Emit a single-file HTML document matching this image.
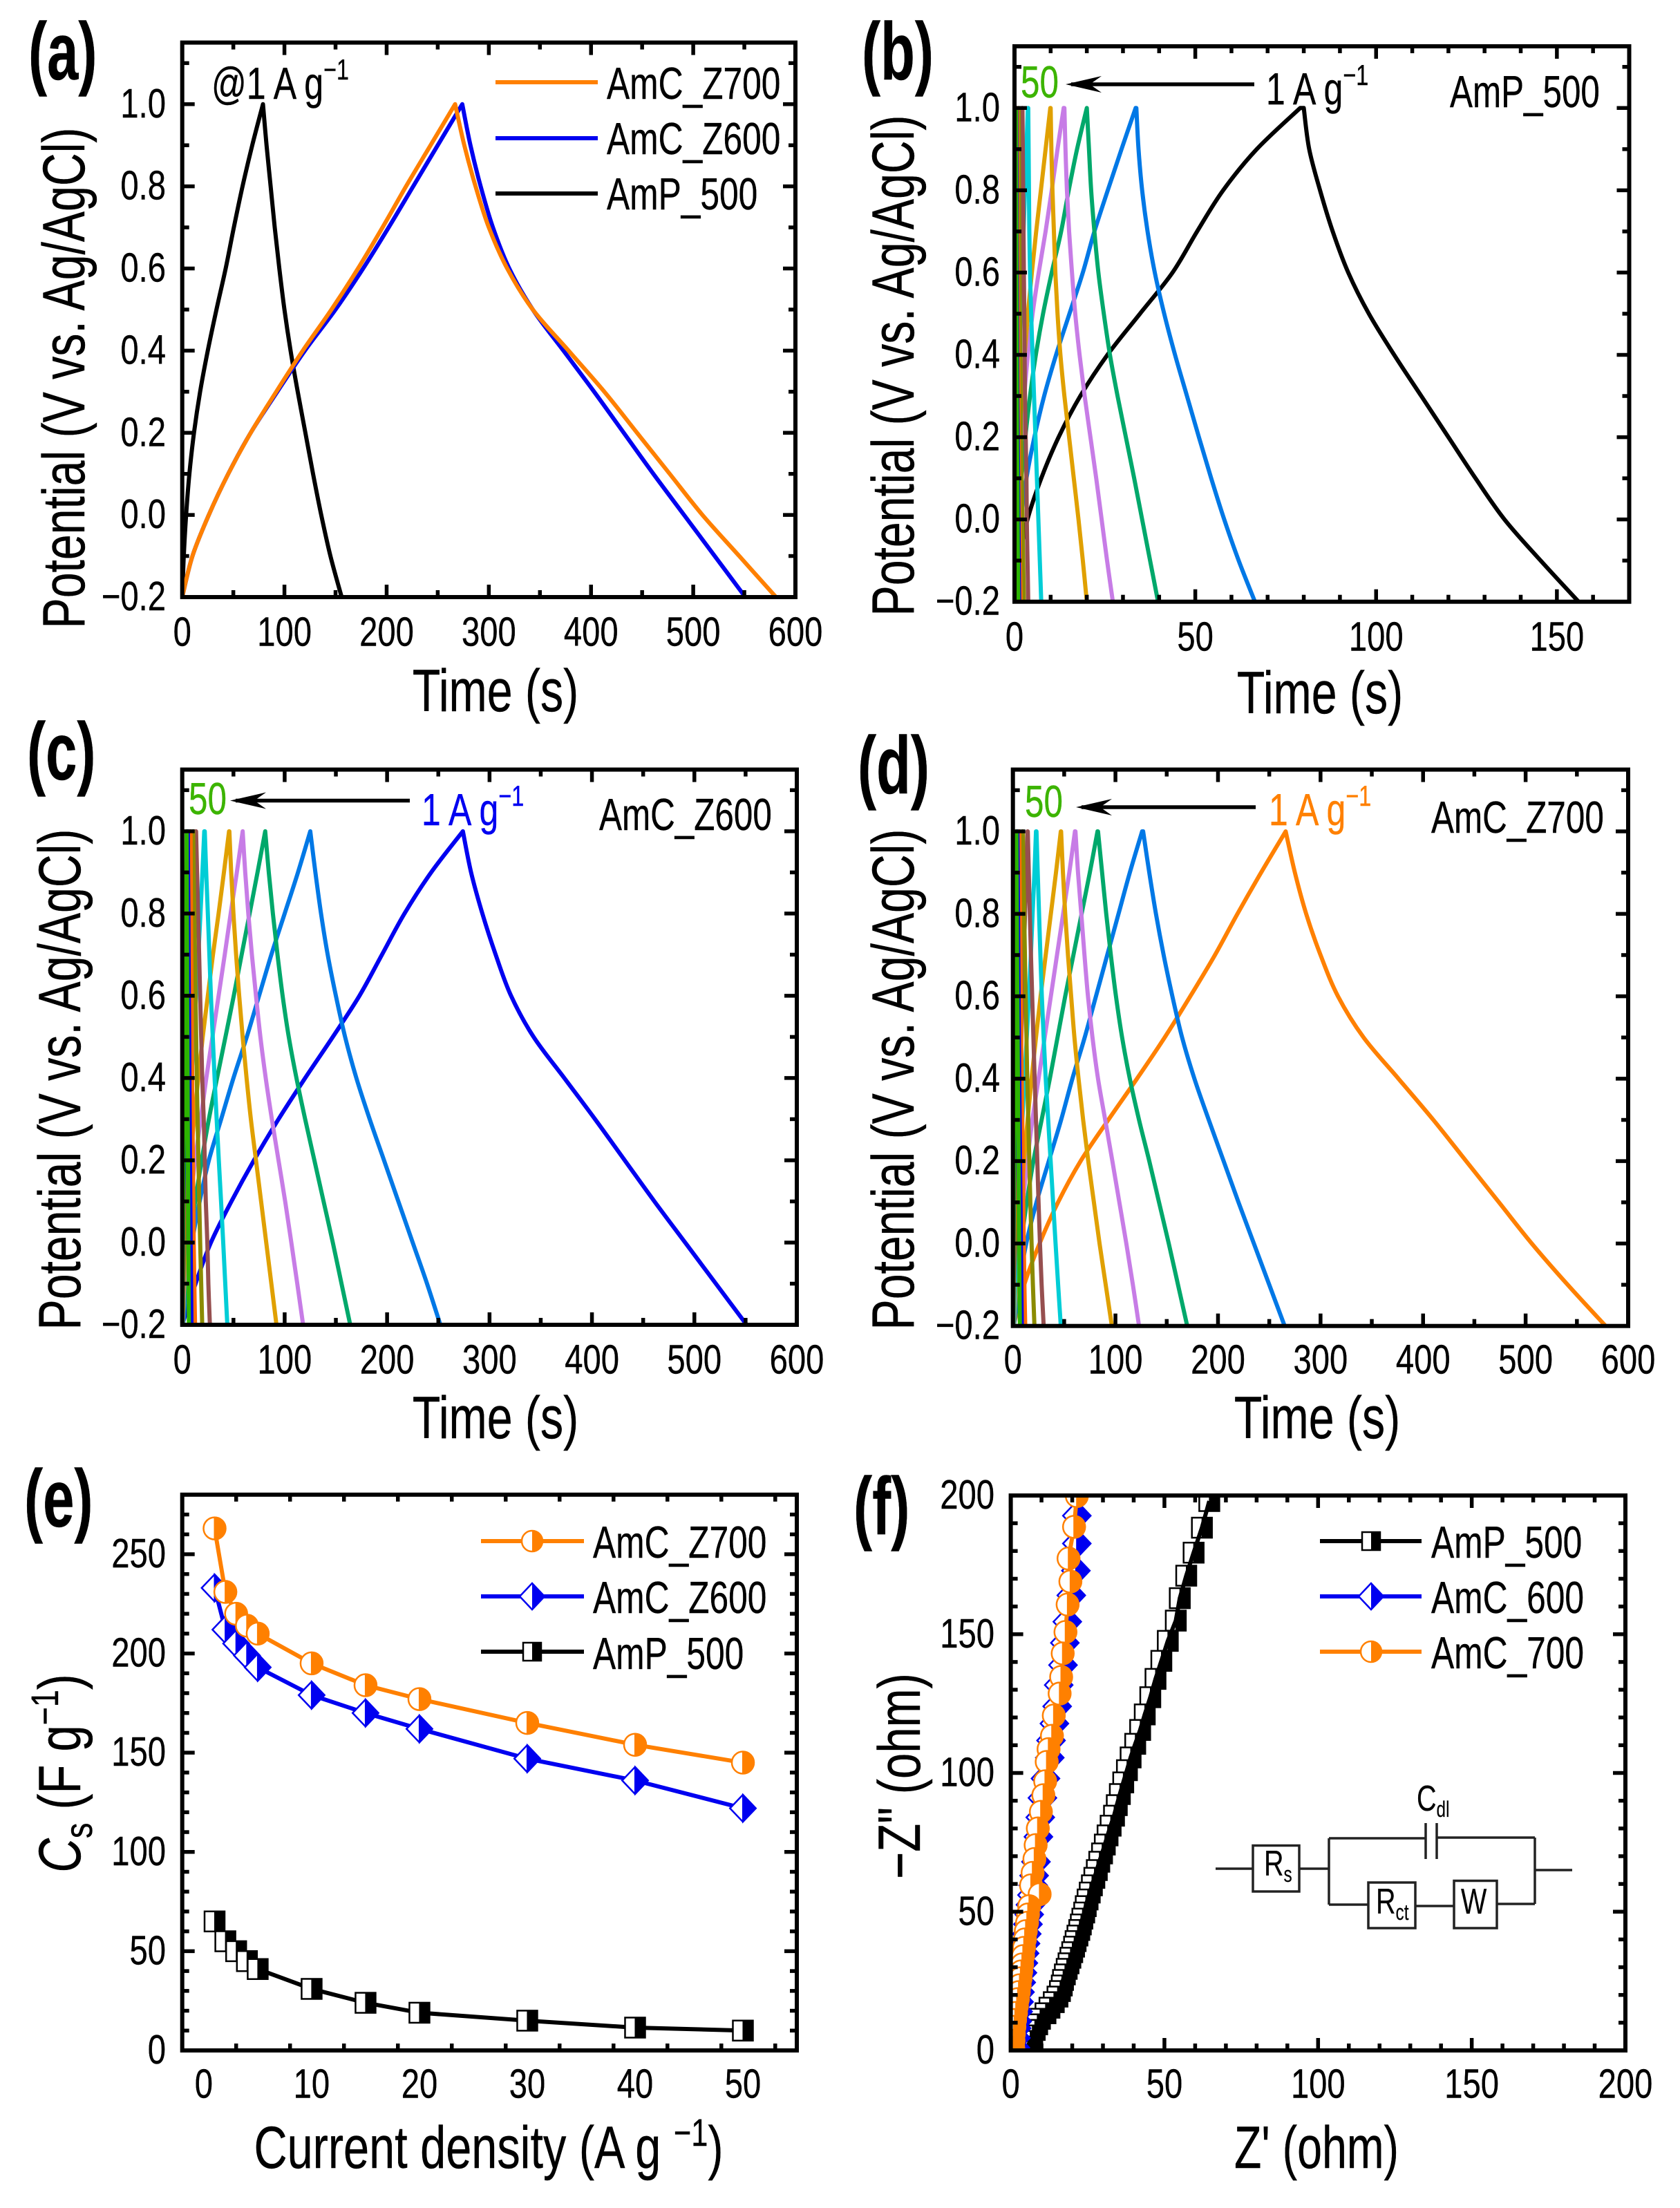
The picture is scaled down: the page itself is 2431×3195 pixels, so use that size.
<!DOCTYPE html>
<html lang="en">
<head>
<meta charset="utf-8">
<title>Electrochemical performance panels</title>
<style>
html,body{margin:0;padding:0;background:#fff;}
svg{display:block;}
text{font-family:"Liberation Sans",sans-serif;fill:#000;stroke:#000;stroke-width:.4;}
</style>
</head>
<body>
<svg id="figure" xmlns="http://www.w3.org/2000/svg" width="2431" height="3195" viewBox="0 0 2431 3195">
<rect x="0" y="0" width="2431" height="3195" fill="#fff"/>
<g id="plots"></g>

<g font-weight="bold" font-size="118">
<text transform="translate(41,115) scale(.69,1)">(a)</text>
<text transform="translate(1247,115) scale(.69,1)">(b)</text>
<text transform="translate(39,1128) scale(.69,1)">(c)</text>
<text transform="translate(1241,1148) scale(.69,1)">(d)</text>
<text transform="translate(35,2209) scale(.69,1)">(e)</text>
<text transform="translate(1235,2220) scale(.69,1)">(f)</text>
</g>

<g>
<text font-size="86" text-anchor="middle" transform="translate(717,1029) scale(.77,1)">Time (s)</text>
<text font-size="86" text-anchor="middle" transform="translate(1910,1032) scale(.77,1)">Time (s)</text>
<text font-size="86" text-anchor="middle" transform="translate(717,2081) scale(.77,1)">Time (s)</text>
<text font-size="86" text-anchor="middle" transform="translate(1906,2081) scale(.77,1)">Time (s)</text>
<text font-size="86" text-anchor="middle" transform="translate(707,3137) scale(.775,1)">Current density (A g <tspan font-size="56" dy="-32">−1</tspan><tspan dy="32">)</tspan></text>
<text font-size="86" text-anchor="middle" transform="translate(1905,3137) scale(.75,1)">Z' (ohm)</text>

<text font-size="86" text-anchor="middle" transform="translate(122,547) rotate(-90) scale(.77,1)">Potential (V vs. Ag/AgCl)</text>
<text font-size="86" text-anchor="middle" transform="translate(1322,529) rotate(-90) scale(.77,1)">Potential (V vs. Ag/AgCl)</text>
<text font-size="86" text-anchor="middle" transform="translate(116,1562) rotate(-90) scale(.77,1)">Potential (V vs. Ag/AgCl)</text>
<text font-size="86" text-anchor="middle" transform="translate(1322,1562) rotate(-90) scale(.77,1)">Potential (V vs. Ag/AgCl)</text>
<text font-size="86" text-anchor="middle" transform="translate(116,2566) rotate(-90) scale(.8,1)"><tspan font-style="italic">C</tspan><tspan font-size="56" dy="17">s</tspan><tspan dy="-17"> (F g</tspan><tspan font-size="56" dy="-32">−1</tspan><tspan dy="32">)</tspan></text>
<text font-size="86" text-anchor="middle" transform="translate(1331,2570) rotate(-90) scale(.78,1)">−Z" (ohm)</text>
</g>

<g font-size="65">
<text transform="translate(306,143) scale(.77,1)">@1 A g<tspan font-size="42" dy="-28">−1</tspan></text>

<text style="fill:#3cb400;stroke:#3cb400" transform="translate(1477,141) scale(.76,1)">50</text>
<g><line x1="1815" y1="122" x2="1550" y2="122" stroke="#000" stroke-width="5.5"/><polygon points="1542,122 1594,110 1577,122 1594,134" fill="#000"/></g>
<text transform="translate(1832,151) scale(.77,1)">1 A g<tspan font-size="42" dy="-28">−1</tspan></text>
<text transform="translate(2098,155) scale(.76,1)">AmP_500</text>

<text style="fill:#3cb400;stroke:#3cb400" transform="translate(273,1178) scale(.76,1)">50</text>
<g><line x1="593" y1="1158.5" x2="341" y2="1158.5" stroke="#000" stroke-width="5.5"/><polygon points="333,1158.5 385,1146.5 368,1158.5 385,1170.5" fill="#000"/></g>
<text style="fill:#0000f0;stroke:#0000f0" transform="translate(610,1194) scale(.77,1)">1 A g<tspan font-size="42" dy="-28">−1</tspan></text>
<text transform="translate(867,1201) scale(.76,1)">AmC_Z600</text>

<text style="fill:#3cb400;stroke:#3cb400" transform="translate(1483,1182) scale(.76,1)">50</text>
<g><line x1="1817" y1="1168" x2="1565" y2="1168" stroke="#000" stroke-width="5.5"/><polygon points="1557,1168 1609,1156 1592,1168 1609,1180" fill="#000"/></g>
<text style="fill:#ff8000;stroke:#ff8000" transform="translate(1836,1194) scale(.77,1)">1 A g<tspan font-size="42" dy="-28">−1</tspan></text>
<text transform="translate(2071,1205) scale(.76,1)">AmC_Z700</text>
</g>

<g font-size="65">
<g><line x1="717" y1="119" x2="865" y2="119" stroke="#ff8000" stroke-width="6"/><text transform="translate(878,143) scale(.765,1)">AmC_Z700</text></g>
<g><line x1="717" y1="200" x2="865" y2="200" stroke="#0000f0" stroke-width="6"/><text transform="translate(878,223) scale(.765,1)">AmC_Z600</text></g>
<g><line x1="717" y1="280" x2="865" y2="280" stroke="#000" stroke-width="6"/><text transform="translate(878,303) scale(.765,1)">AmP_500</text></g>
</g>

<g font-size="65">
<g><line x1="696" y1="2230" x2="845" y2="2230" stroke="#ff8000" stroke-width="6"/><circle cx="770" cy="2230" r="15" fill="#fff" stroke="#ff8000" stroke-width="2.5"/><path d="M770,2215 A15,15 0 0 1 770,2245 Z" fill="#ff8000"/><text transform="translate(858,2254) scale(.765,1)">AmC_Z700</text></g>
<g><line x1="696" y1="2310" x2="845" y2="2310" stroke="#0000f0" stroke-width="6"/><polygon points="770,2291 788,2310 770,2329 752,2310" fill="#fff" stroke="#0000f0" stroke-width="2.5"/><polygon points="770,2291 788,2310 770,2329" fill="#0000f0"/><text transform="translate(858,2334) scale(.765,1)">AmC_Z600</text></g>
<g><line x1="696" y1="2390" x2="845" y2="2390" stroke="#000" stroke-width="6"/><rect x="757" y="2377" width="26" height="26" fill="#fff" stroke="#000" stroke-width="2.5"/><rect x="770" y="2377" width="13" height="26" fill="#000"/><text transform="translate(858,2415) scale(.765,1)">AmP_500</text></g>
</g>

<g font-size="65">
<g><line x1="1910" y1="2230" x2="2057" y2="2230" stroke="#000" stroke-width="6"/><rect x="1971" y="2217" width="26" height="26" fill="#fff" stroke="#000" stroke-width="2.5"/><rect x="1984" y="2217" width="13" height="26" fill="#000"/><text transform="translate(2071,2254) scale(.765,1)">AmP_500</text></g>
<g><line x1="1910" y1="2310" x2="2057" y2="2310" stroke="#0000f0" stroke-width="6"/><polygon points="1984,2291 2002,2310 1984,2329 1966,2310" fill="#fff" stroke="#0000f0" stroke-width="2.5"/><polygon points="1984,2291 2002,2310 1984,2329" fill="#0000f0"/><text transform="translate(2071,2334) scale(.765,1)">AmC_600</text></g>
<g><line x1="1910" y1="2390" x2="2057" y2="2390" stroke="#ff8000" stroke-width="6"/><circle cx="1984" cy="2390" r="15" fill="#fff" stroke="#ff8000" stroke-width="2.5"/><path d="M1984,2375 A15,15 0 0 1 1984,2405 Z" fill="#ff8000"/><text transform="translate(2071,2414) scale(.765,1)">AmC_700</text></g>
</g>

<g fill="none" stroke="#222" stroke-width="3.5">
<path d="M1759,2704 H1813 M1880,2704 H1923 M1923,2660 V2756 M1923,2660 H2063 M2079,2659 H2221 M2221,2659 V2755 M2221,2706 H2275 M1923,2756 H1980 M2048,2758 H2104 M2166,2755 H2221"/>
<path d="M2063,2638 V2690 M2079,2638 V2690"/>
<rect x="1813" y="2670.5" width="67" height="66.5"/>
<rect x="1980" y="2724" width="68" height="66"/>
<rect x="2104" y="2721.5" width="62" height="68.5"/>
<g font-size="52">
<text style="stroke-width:.2" transform="translate(1829,2714) scale(.76,1)">R<tspan font-size="32" dy="9">s</tspan></text>
<text style="stroke-width:.2" transform="translate(1991,2769) scale(.76,1)">R<tspan font-size="32" dy="9">ct</tspan></text>
<text style="stroke-width:.2" transform="translate(2114,2769) scale(.76,1)">W</text>
<text style="stroke-width:.2" transform="translate(2050,2620) scale(.76,1)">C<tspan font-size="32" dy="9">dl</tspan></text>
</g>
</g>
</svg>

<script>
/* ---------- shared potential levels ---------- */
const potentialUp = [-0.2,-0.1,0,0.1,0.2,0.3,0.4,0.5,0.6,0.7,0.8,0.9,1.0];
const potentialDown = [1.0,0.9,0.8,0.7,0.6,0.5,0.4,0.3,0.2,0.1,0,-0.1,-0.2];

/* ---------- tick labels ---------- */
const potentialTicks = [-0.2,0,0.2,0.4,0.6,0.8,1.0];
const potentialTickLabels = ['−0.2','0.0','0.2','0.4','0.6','0.8','1.0'];
const timeTicksWide = [0,100,200,300,400,500,600];
const timeTicksNarrow = [0,50,100,150];
const currentTicks = [0,10,20,30,40,50];
const capacitanceTicks = [0,50,100,150,200,250];
const impedanceTicks = [0,50,100,150,200];

/* ---------- panel a: charge/discharge at 1 A/g ---------- */
const aAmpCharge = [0,1.5,3.8,7,11.5,17.5,25,33.5,42.5,50.5,59,68.5,79];
const aAmpDischarge = [79,82.5,86.5,90.5,95,100,106,113,120.5,128,136,145,156];
const aZ600Charge = [0,10,26,45,67,93,120,150,177,202,226,250,274];
const aZ600Discharge = [274,282,292,304,320,343,373,403,432,461,491,521,551];
const aZ700Charge = [0,10,26,45,67,92,118,146,172,196,219,243,267];
const aZ700Discharge = [267,276,287,300,318,343,378,413,445,477,509,545,581];

/* ---------- rate series, 1 to 50 A/g ---------- */
const rateNames = ['1','2','3','4','5','10','15','20','30','40','50'];
const rateColours = ['#0078e6','#00a86b','#c77ce6','#e0a000','#00cdd6','#964f4f','#8b8b00','#ff6a00','#0000f0','#2cb400'];

/* ---------- panel b: AmP_500 ---------- */
const bCharge = [
[0.3,1.3,3.6,7.4,12.2,18.2,25.7,34.7,43.7,50.5,57.7,67,79],
[0.2,0.7,1.7,3.3,5.5,8.2,11.5,15.2,18.9,22.1,25.8,29.6,33.5],
[0.1,0.4,1,1.9,3,4.3,5.9,7.9,10.3,12.9,15,17.3,20],
[0.1,0.3,0.7,1.2,1.9,2.7,3.7,5,6.7,8.6,10.3,11.9,13.6],
[0.1,0.3,0.5,0.9,1.4,2,2.8,3.7,4.8,6,7.3,8.6,9.9],
[0,0.1,0.2,0.4,0.7,1,1.3,1.7,2.1,2.5,2.9,3.3,3.7],
[0.1,0.3,0.5,0.7,0.9,1.1,1.3,1.4,1.6,1.7,1.8,2,2.1],
[0.1,0.1,0.2,0.3,0.4,0.5,0.6,0.7,0.8,0.9,1,1.05,1.1],
[0,0.1,0.1,0.2,0.3,0.3,0.4,0.4,0.5,0.5,0.6,0.65,0.7],
[0,0,0.1,0.1,0.2,0.2,0.3,0.3,0.3,0.4,0.4,0.45,0.5],
[0,0,0,0.1,0.1,0.1,0.2,0.2,0.2,0.3,0.3,0.35,0.4]];
const bDischarge = [
[80,81.5,84.5,88,92.3,98,105,112.5,120,127.5,135.5,145.5,156],
[33.7,34.3,35.3,36.8,38.8,41.4,44.4,47.7,51,54.4,58,62,66.5],
[20,20.6,21.2,22.1,23.2,24.7,26.4,28.5,30.8,33.1,35.3,37.5,39.7],
[13.8,14.1,14.5,15.1,15.9,16.8,18,19.4,21,22.6,24.1,25.6,27.2],
[10,10.2,10.5,10.9,11.3,11.9,12.7,13.8,15.1,16.4,17.7,18.9,20],
[3.8,3.9,4,4.1,4.3,4.6,5,5.4,5.8,6.2,6.6,7,7.4],
[2.2,2.3,2.4,2.5,2.6,2.7,2.8,2.9,3.1,3.3,3.4,3.6,3.8],
[1.15,1.2,1.25,1.3,1.4,1.5,1.6,1.7,1.8,2,2.2,2.4,2.6],
[0.7,0.75,0.8,0.8,0.9,0.95,1,1.1,1.15,1.25,1.35,1.5,1.7],
[0.5,0.55,0.6,0.6,0.65,0.7,0.75,0.8,0.9,1,1.1,1.2,1.3],
[0.4,0.42,0.45,0.5,0.5,0.55,0.6,0.65,0.7,0.8,0.85,0.95,1.05]];

/* ---------- panel c: AmC_Z600 ---------- */
const cCharge = [
[0,13,28,48,70,94,120,147,173,195,217,243,274],
[1,4,9.5,17,26,38,50,63,75,87,100,113,125],
[0.5,2.8,7,12.6,19,26,34,42.2,50.3,58,65.8,73.5,81],
[0.5,2,4.5,8,12.6,18,23.5,29.5,35.5,41.5,47.3,53.3,59],
[0.4,1.5,3,5.2,8,11.6,15.7,20,25,30,35.5,40.7,45.7],
[0.2,1,2,3.4,5,7,9,11.2,13.5,15.7,17.8,19.7,21.5],
[0.2,1,2,3,4,5.5,6.5,7.7,8.8,10,11,12,13],
[0.1,0.7,1.5,2.3,3.3,4.3,5.2,6.1,7,7.9,8.8,9.7,10.5],
[0.1,0.5,1.1,1.7,2.4,3.1,3.8,4.5,5.1,5.8,6.5,7.2,8],
[0.1,0.4,0.8,1.2,1.7,2.1,2.6,3.1,3.5,4,4.5,5,5.5],
[0.1,0.3,0.6,0.9,1.2,1.6,2,2.4,2.8,3.2,3.6,3.9,4.2]];
const cDischarge = [
[274,282,293,306,321,343,373,403,432,461,491,521,551],
[125,130,135.5,142,150,159,170,183,197,211,225,239,252],
[81,84.5,88.5,93,98,104,111.5,120,129,138,147,155.5,164],
[59,61.5,64.5,68,72,76.3,81.5,87.5,94,100.5,106.5,112.3,118],
[46,47.8,50,52.6,55.6,59,62.8,67,72,77,82,87,92],
[22,23.4,25,26.5,28,29.8,31.6,33.6,35.7,37.9,40,42,44],
[13.5,14.5,15.5,16.5,17.5,18.5,19.5,21,22,23,24.5,25.5,27],
[10.7,11.2,11.8,12.4,13,13.6,14.2,15,15.8,16.6,17.5,18.5,19.5],
[8.1,8.3,8.5,8.8,9.1,9.4,9.7,10,10.4,10.8,11.2,11.8,12.5],
[5.5,5.7,6,6.2,6.5,6.8,7,7.3,7.6,7.9,8.2,8.6,9],
[4.3,4.4,4.5,4.7,4.8,5,5.2,5.4,5.6,5.8,6,6.2,6.5]];

/* ---------- panel d: AmC_Z700 ---------- */
const dCharge = [
[0.5,11,26,44,66,93,121,148,173,197,219,242,266],
[1,6,13,23,35,47,58,70,81,92,103,114,126],
[1,3.8,8,13.5,20,28,36,43.5,51,59,67,75,82.5],
[0.8,3.2,6.2,9.8,14,19,25,31,37,43,49,55,60.5],
[0.6,2.6,5,7.7,10.8,14.3,18.2,22.5,27,32,37,42,46.7],
[0.5,2,3.5,5.2,7.2,9.2,11.4,13.5,15.6,17.5,19.2,21,22.5],
[0.3,1,2.2,3.4,4.6,5.8,7,8.2,9.4,10.6,11.8,13,14.2],
[0.2,0.7,1.5,2.3,3.1,3.9,4.7,5.4,6.2,7,7.8,8.6,9.4],
[0.1,0.4,0.9,1.4,1.9,2.5,3,3.5,4,4.5,5,5.5,6],
[0.1,0.3,0.6,1,1.4,1.8,2.2,2.6,3,3.3,3.6,4,4.3],
[0.1,0.2,0.4,0.7,1,1.3,1.6,1.9,2.2,2.5,2.8,3,3.3]];
const dDischarge = [
[266,275,286,300,317,342,376,410,442,474,506,541,578],
[127,133,139.5,147,155.5,165,177,191,205.5,220,235,250,265],
[83,87,91,95.5,100.5,106.5,114,123,133,142.5,152,161,170],
[61,63.5,66.7,69.8,73.2,77.6,83,90,97,103.8,110.6,117,123],
[47,48.8,51,53.7,56.8,60,64,68.5,73.5,79,84.5,90.5,96.5],
[23,24.2,25.5,26.8,28.2,30,32,34.4,36.8,39.2,41.6,44.1,46.7],
[14.5,15.5,16.5,17.6,18.8,20,21.2,22.5,23.8,25,26.4,28,30],
[9.7,10.3,11,11.7,12.4,13.2,14,15,16,17,18.2,19.5,21],
[6.2,6.5,6.9,7.3,7.7,8.1,8.6,9.1,9.6,10.1,10.6,11.2,12],
[4.4,4.7,5,5.3,5.6,5.9,6.2,6.6,7,7.4,7.8,8.2,8.7],
[3.4,3.6,3.8,4,4.3,4.6,4.9,5.2,5.5,5.8,6.1,6.4,6.8]];

/* ---------- panel e: specific capacitance ---------- */
const currentDensity = [1,2,3,4,5,10,15,20,30,40,50];
const capacitanceZ700 = [263,231,220,214,210,195,184,177,165,154,145];
const capacitanceZ600 = [233,212,205,199,193,179,170,162,147,136,122];
const capacitanceAmp = [65,55,50,45,41,31,24,19,15,11.5,10];

/* ---------- panel f: Nyquist ---------- */
const nyquistAmpRe = [5.5,6.3,7,7.8,8.6,9.5,11.3,12.6,14,15.2,16,16.6,17,17.6,18.2,18.8,19.4,20,20.6,21.1,21.7,22.3,22.8,23.3,23.9,24.4,25,25.7,26.4,27.2,28,28.8,29.7,30.6,31.5,32.5,33.6,34.5,35.5,36.6,37.8,39,40.5,42.1,43.6,45.4,47.1,49,51.1,53.7,55,57.1,59.5,62.2,64.6];
const nyquistAmpIm = [1.4,3.4,5.4,7.4,9.4,11.4,13.4,15.4,17.4,19.4,21.4,23.4,25.4,27.4,29.4,31.4,33.4,35.4,37.4,39.4,41.4,43.4,45.4,47.5,49.7,52,54.4,56.9,59.5,62.2,65,68,71,74.2,77.5,81,84.6,88.4,92.4,96.6,101,105.6,110.5,115.5,121.1,127.3,133.9,140.4,147.6,154.9,163,171.1,179.4,188.4,198];
const nyquistC600Re = [1.5,1.7,1.9,2.1,2.4,2.7,3,3.4,3.8,4.1,4.5,4.8,5.2,5.6,6,6.4,6.9,7.3,7.6,8.2,9,9.6,10.3,11.3,12.7,13.1,14.2,15.1,15.6,17,17.6,18.4,19.7,21.2,21.5,21.5];
const nyquistC600Im = [1,4.5,8,10.5,14,17.5,21,24.5,28,31.5,35,38.5,42,45.5,49,52.5,56,59.5,63,68,77,84,91,98,105.5,111.7,117.8,124,131.7,138.9,146.9,154.5,164,172.9,182.7,192.7];
const nyquistC700Re = [0.8,0.9,1,1.2,1.4,1.7,2,2.3,2.6,2.9,3.2,3.4,3.7,4,4.3,4.6,4.9,5.3,5.6,6,9.4,6.6,7.1,7.7,8.1,8.8,9.8,10.6,11.2,11.7,12.3,13.4,14,15.9,16.4,16.9,17.8,18.5,19.4,18.8,20.6,21.5];
const nyquistC700Im = [1,3.5,6,8.5,11,13.5,16,18.5,21,23.5,26,28.5,31,34,37,40,43,46,49,52,56.3,59.5,64,69,74,80,86,92,97,104,108.6,113.4,120.7,128.6,134.6,143.1,150.8,160.7,169,177.3,188.7,199.8];

/* ---------- drawing helpers ---------- */
const NS = 'http://www.w3.org/2000/svg';
const root = document.getElementById('plots');
function mk(tag, attrs, parent){
  const e = document.createElementNS(NS, tag);
  for (const k in attrs) e.setAttribute(k, attrs[k]);
  parent.appendChild(e);
  return e;
}
function smooth(pts, move){
  let d = (move ? 'M' : 'L') + pts[0][0].toFixed(2) + ',' + pts[0][1].toFixed(2);
  for (let i = 0; i < pts.length - 1; i++){
    const p0 = pts[i-1] || pts[i], p1 = pts[i], p2 = pts[i+1], p3 = pts[i+2] || p2;
    d += 'C' + (p1[0]+(p2[0]-p0[0])/6).toFixed(2) + ',' + (p1[1]+(p2[1]-p0[1])/6).toFixed(2) + ' ' +
         (p2[0]-(p3[0]-p1[0])/6).toFixed(2) + ',' + (p2[1]-(p3[1]-p1[1])/6).toFixed(2) + ' ' +
         p2[0].toFixed(2) + ',' + p2[1].toFixed(2);
  }
  return d;
}
function makePanel(key, box){
  const g = mk('g', {}, root);
  
  
  const clip = mk('clipPath', {id:'clip-' + key}, g);
  mk('rect', {x:box.x0, y:box.y1, width:box.x1-box.x0, height:box.y0-box.y1}, clip);
  const marks = mk('g', {'clip-path':'url(#clip-' + key + ')'}, g);
  
  
  return {
    key, box, g, marks,
    sx: v => box.x0 + (v - box.xMin) / (box.xMax - box.xMin) * (box.x1 - box.x0),
    sy: v => box.y0 - (v - box.yMin) / (box.yMax - box.yMin) * (box.y0 - box.y1)
  };
}
function drawAxes(p, xTicks, xLabels, xMinorStep, yTicks, yLabels, yMinorStep, labelX, labelY){
  const b = p.box;
  const ax = mk('g', {stroke:'#000','stroke-width':5.5}, p.g);
  
  
  const isMajor = (ticks, v) => ticks.some(t => Math.abs(t - v) < 1e-6);
  for (let i = 0, v = b.xMin; v <= b.xMax + 1e-6; i++, v = b.xMin + i * xMinorStep){
    const len = isMajor(xTicks, v) ? 18 : 10, x = p.sx(v);
    mk('line', {x1:x, x2:x, y1:b.y0, y2:b.y0-len}, ax);
    mk('line', {x1:x, x2:x, y1:b.y1, y2:b.y1+len}, ax);
  }
  for (let i = 0, v = b.yMin; v <= b.yMax + 1e-6; i++, v = b.yMin + i * yMinorStep){
    const len = isMajor(yTicks, v) ? 18 : 10, y = p.sy(v);
    mk('line', {x1:b.x0, x2:b.x0+len, y1:y, y2:y}, ax);
    mk('line', {x1:b.x1, x2:b.x1-len, y1:y, y2:y}, ax);
  }
  const frame = mk('rect', {x:b.x0, y:b.y1, width:b.x1-b.x0, height:b.y0-b.y1, fill:'none', stroke:'#000','stroke-width':6}, p.g);
  
  
  xTicks.forEach((v, i) => {
    const t = mk('text', {'font-size':59,'text-anchor':'middle',transform:'translate(' + p.sx(v) + ',' + (labelY + 1.5) + ') scale(.8,1)'}, p.g);
    
    
    t.textContent = xLabels[i];
  });
  yTicks.forEach((v, i) => {
    const t = mk('text', {'font-size':59,'text-anchor':'end',transform:'translate(' + labelX + ',' + (p.sy(v) + 19) + ') scale(.8,1)'}, p.g);
    
    
    t.textContent = yLabels[i];
  });
}
function drawCurve(p, charge, discharge, colour, name){
  const up = charge.map((t, i) => [p.sx(t), p.sy(potentialUp[i])]);
  const down = discharge.map((t, i) => [p.sx(t), p.sy(potentialDown[i])]);
  const path = mk('path', {d:smooth(up, true) + smooth(down, false), fill:'none', stroke:colour,'stroke-width':6,'stroke-linejoin':'round'}, p.marks);
  
  
}
function drawRateFamily(p, chargeSet, dischargeSet, firstColour, label){
  chargeSet.forEach((ch, i) => {
    const colour = i === 0 ? firstColour : rateColours[i-1];
    drawCurve(p, ch, dischargeSet[i], colour, 'curve-' + label + '-' + rateNames[i] + '-a-per-g');
  });
}
function halfMarker(parent, shape, x, y, size, colour, name){
  const g = mk('g', {}, parent);
  
  
  if (shape === 'circle'){
    mk('circle', {cx:x, cy:y, r:size, fill:'#fff', stroke:colour,'stroke-width':2.5}, g);
    mk('path', {d:'M'+x+','+(y-size)+' A'+size+','+size+' 0 0 1 '+x+','+(y+size)+' Z', fill:colour, stroke:colour,'stroke-width':2}, g);
  } else if (shape === 'diamond'){
    const w = size, h = size * 1.05;
    mk('polygon', {points:[x,y-h,x+w,y,x,y+h,x-w,y].join(','), fill:'#fff', stroke:colour,'stroke-width':2.5}, g);
    mk('polygon', {points:[x,y-h,x+w,y,x,y+h].join(','), fill:colour, stroke:colour,'stroke-width':2}, g);
  } else {
    mk('rect', {x:x-size, y:y-size, width:size*2, height:size*2, fill:'#fff', stroke:colour,'stroke-width':2.5}, g);
    mk('rect', {x:x, y:y-size, width:size, height:size*2, fill:colour, stroke:colour,'stroke-width':1}, g);
  }
}
function drawMarkerSeries(p, xs, ys, colour, shape, size, name, newestFirst, lineOnTop){
  const pts = xs.map((v, i) => p.sx(v) + ',' + p.sy(ys[i]));
  const drawLine = () => {
    const line = mk('polyline', {points:pts.join(' '), fill:'none', stroke:colour,'stroke-width':6}, p.marks);
    
    
  };
  if (!lineOnTop) drawLine();
  const order = xs.map((v, i) => i);
  if (newestFirst) order.reverse();
  order.forEach(i => halfMarker(p.marks, shape, p.sx(xs[i]), p.sy(ys[i]), size, colour, name + '-point'));
  if (lineOnTop) drawLine();
}

/* ---------- panels ---------- */
const panelA = makePanel('a', {x0:263.7,x1:1151,y0:864,y1:61.6,xMin:0,xMax:600,yMin:-0.2,yMax:1.15});
drawCurve(panelA, aAmpCharge, aAmpDischarge, '#000', 'curve-amp500');
drawCurve(panelA, aZ600Charge, aZ600Discharge, '#0000f0', 'curve-z600');
drawCurve(panelA, aZ700Charge, aZ700Discharge, '#ff8000', 'curve-z700');
drawAxes(panelA, timeTicksWide, timeTicksWide.map(String), 50, potentialTicks, potentialTickLabels, 0.1, 240, 933);

const panelB = makePanel('b', {x0:1468,x1:2357.5,y0:870.7,y1:67,xMin:0,xMax:170,yMin:-0.2,yMax:1.15});
drawRateFamily(panelB, bCharge, bDischarge, '#000', 'amp500');
drawAxes(panelB, timeTicksNarrow, timeTicksNarrow.map(String), 10, potentialTicks, potentialTickLabels, 0.1, 1447, 940);

const panelC = makePanel('c', {x0:263.7,x1:1153,y0:1917,y1:1113.6,xMin:0,xMax:600,yMin:-0.2,yMax:1.15});
drawRateFamily(panelC, cCharge, cDischarge, '#0000f0', 'z600');
drawAxes(panelC, timeTicksWide, timeTicksWide.map(String), 50, potentialTicks, potentialTickLabels, 0.1, 240, 1986);

const panelD = makePanel('d', {x0:1465.7,x1:2356,y0:1918.7,y1:1113.6,xMin:0,xMax:600,yMin:-0.2,yMax:1.15});
drawRateFamily(panelD, dCharge, dDischarge, '#ff8000', 'z700');
drawAxes(panelD, timeTicksWide, timeTicksWide.map(String), 50, potentialTicks, potentialTickLabels, 0.1, 1447, 1986);

const panelE = makePanel('e', {x0:263.7,x1:1153,y0:2967,y1:2162.8,xMin:-2,xMax:55,yMin:0,yMax:280});
drawMarkerSeries(panelE, currentDensity, capacitanceAmp, '#000', 'square', 14.5, 'capacitance-amp500', false, false);
drawMarkerSeries(panelE, currentDensity, capacitanceZ600, '#0000f0', 'diamond', 18.7, 'capacitance-z600', false, false);
drawMarkerSeries(panelE, currentDensity, capacitanceZ700, '#ff8000', 'circle', 16, 'capacitance-z700', false, false);
drawAxes(panelE, currentTicks, currentTicks.map(String), 5, capacitanceTicks, capacitanceTicks.map(String), 10, 240, 3034);

const panelF = makePanel('f', {x0:1462.6,x1:2352,y0:2967,y1:2164,xMin:0,xMax:200,yMin:0,yMax:200});
drawMarkerSeries(panelF, nyquistAmpRe, nyquistAmpIm, '#000', 'square', 14.5, 'nyquist-amp500', true, true);
drawMarkerSeries(panelF, nyquistC600Re, nyquistC600Im, '#0000f0', 'diamond', 20, 'nyquist-c600', true, false);
drawMarkerSeries(panelF, nyquistC700Re, nyquistC700Im, '#ff8000', 'circle', 16, 'nyquist-c700', true, false);
drawAxes(panelF, impedanceTicks, impedanceTicks.map(String), 10, impedanceTicks, impedanceTicks.map(String), 10, 1439, 3034);
</script>
</body>
</html>
